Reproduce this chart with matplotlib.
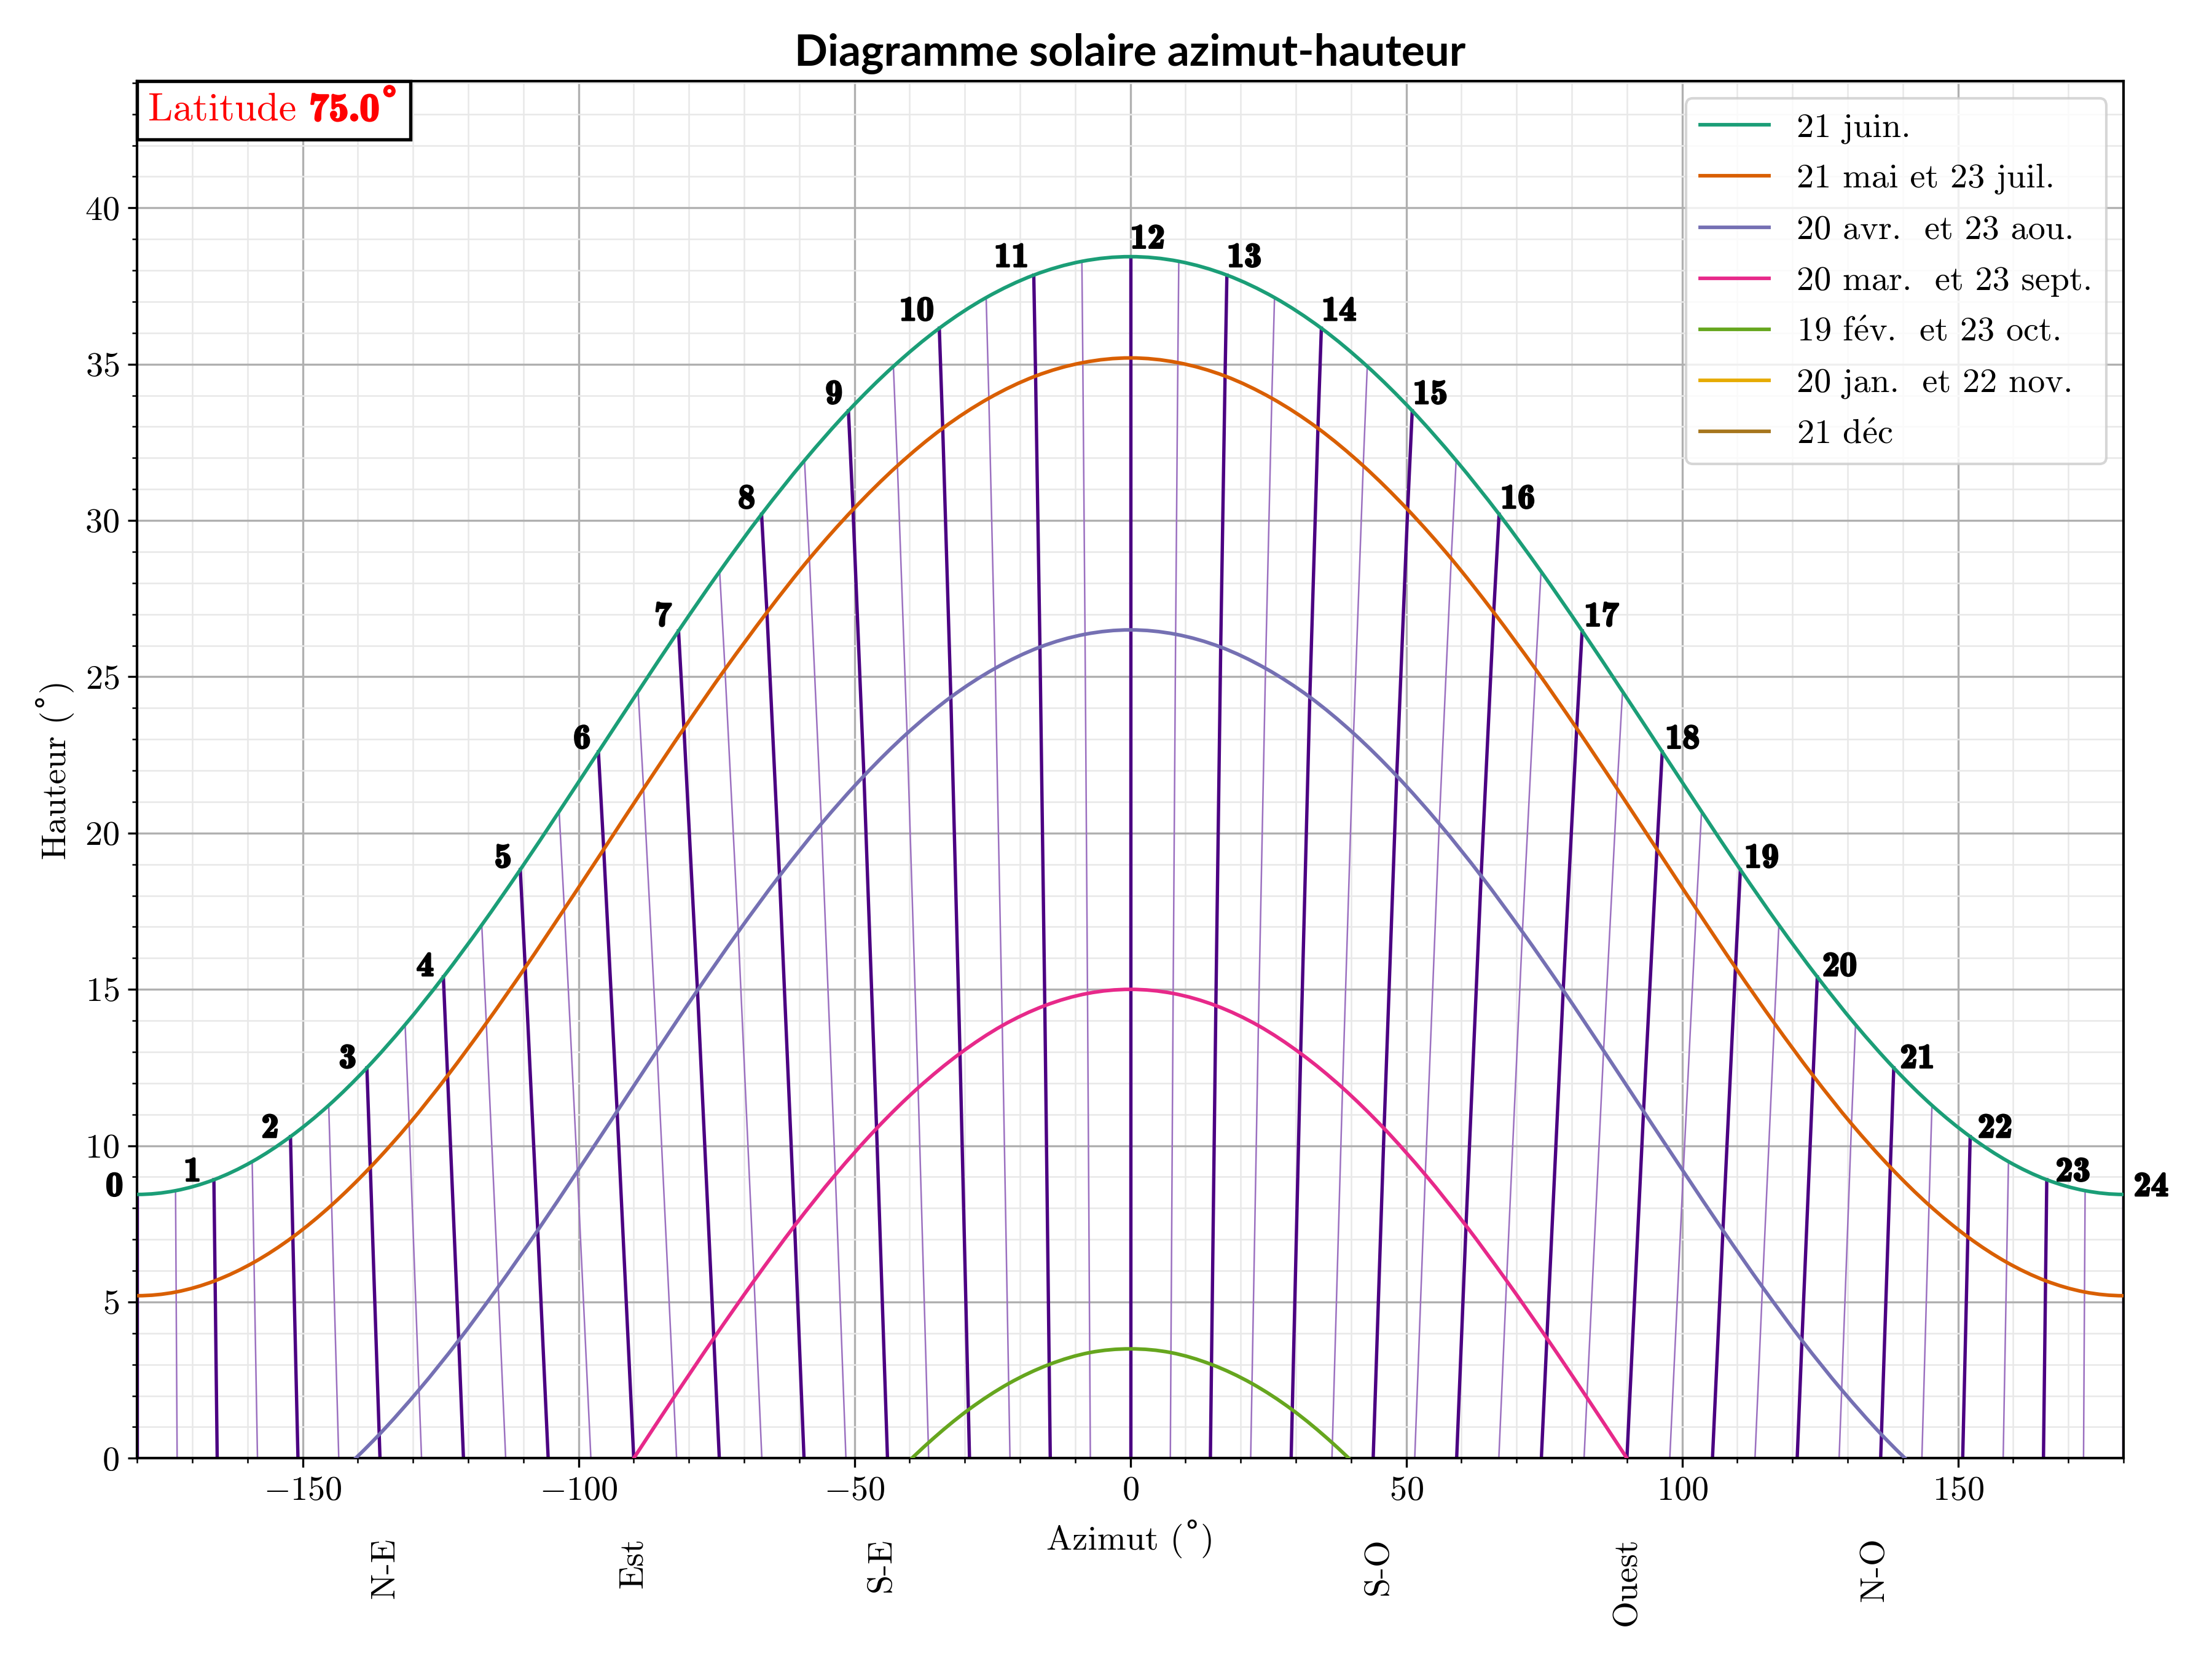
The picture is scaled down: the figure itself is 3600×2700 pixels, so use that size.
"""Diagramme solaire azimut-hauteur, latitude 75 deg."""
import numpy as np
import matplotlib
matplotlib.use("Agg")
import matplotlib.pyplot as plt
import matplotlib.patheffects as pe
from matplotlib.lines import Line2D
from matplotlib.path import Path
from matplotlib.patches import PathPatch
from matplotlib.offsetbox import AnchoredOffsetbox, TextArea, HPacker
from matplotlib.ticker import MultipleLocator

plt.rcParams["font.family"] = ["cmr10", "DejaVu Serif"]
plt.rcParams["mathtext.fontset"] = "cm"
plt.rcParams["axes.formatter.use_mathtext"] = True

DEG = "\u02da"  # cmr10 has no degree sign; the ring comes from the fallback font
latitude = 75.0

# morning half of each day, every half hour from 0h to 12h (afternoon is the mirror)
az_jun = [-180.0, -173.04, -166.09, -159.15, -152.21, -145.28, -138.36, -131.43, -124.50, -117.54, -110.56, -103.52, -96.40,
          -89.20, -81.88, -74.43, -66.83, -59.05, -51.09, -42.94, -34.62, -26.13, -17.50, -8.78, 0.0]
alt_jun = [8.44, 8.56, 8.91, 9.49, 10.29, 11.29, 12.49, 13.87, 15.40, 17.06, 18.83, 20.69, 22.60,
           24.53, 26.47, 28.37, 30.20, 31.92, 33.51, 34.93, 36.15, 37.13, 37.85, 38.29, 38.44]

az_mai = [-180.0, -172.93, -165.87, -158.82, -151.78, -144.75, -137.74, -130.70, -123.74, -116.72, -109.67, -102.58, -95.44,
          -88.22, -80.90, -73.46, -65.86, -58.16, -50.26, -42.21, -34.00, -25.64, -17.17, -8.61, 0.0]
alt_mai = [5.20, 5.32, 5.68, 6.27, 7.08, 8.10, 9.31, 10.70, 12.24, 13.92, 15.70, 17.57, 19.48,
           21.42, 23.35, 25.24, 27.06, 28.78, 30.35, 31.75, 32.95, 33.91, 34.62, 35.05, 35.20]

az_avr = [-180.0, -172.64, -165.29, -157.95, -150.65, -143.38, -136.13, -128.92, -121.72, -114.56, -107.40, -100.22, -93.01,
          -85.77, -78.45, -71.06, -63.58, -55.99, -48.28, -40.46, -32.53, -24.50, -16.38, -8.21, 0.0]
alt_avr = [-3.50, -3.38, -3.00, -2.39, -1.55, -0.49, 0.76, 2.19, 3.77, 5.48, 7.29, 9.18, 11.10,
           13.04, 14.97, 16.84, 18.63, 20.30, 21.83, 23.19, 24.35, 25.27, 25.95, 26.36, 26.50]

az_mar = [-180.0, -172.24, -164.50, -156.79, -149.12, -141.54, -134.01, -126.54, -119.16, -111.81, -104.51, -97.25, -90.00,
          -82.75, -75.49, -68.19, -60.84, -53.46, -45.99, -38.46, -30.87, -23.21, -15.50, -7.76, 0.0]
alt_mar = [-15.00, -14.87, -14.48, -13.84, -12.95, -11.85, -10.55, -9.07, -7.44, -5.68, -3.84, -1.94, 0.00,
           1.94, 3.84, 5.68, 7.44, 9.07, 10.55, 11.85, 12.95, 13.84, 14.48, 14.87, 15.00]

az_fev = [-180.0, -171.79, -163.62, -155.50, -147.47, -139.54, -131.72, -124.01, -116.42, -108.94, -101.55, -94.23, -86.99,
          -79.78, -72.60, -65.43, -58.28, -51.08, -43.87, -36.62, -29.35, -22.05, -14.71, -7.36, 0.0]
alt_fev = [-26.50, -26.36, -25.95, -25.27, -24.35, -23.19, -21.83, -20.30, -18.63, -16.84, -14.97, -13.04, -11.10,
           -9.18, -7.29, -5.48, -3.77, -2.19, -0.76, 0.49, 1.55, 2.39, 3.00, 3.38, 3.50]

az_jan = [-180.0, -171.39, -162.83, -154.36, -146.00, -137.79, -129.74, -121.84, -114.14, -106.54, -99.10, -91.78, -84.56,
          -77.42, -70.33, -63.28, -56.26, -49.30, -42.26, -35.25, -28.22, -21.18, -14.13, -7.07, 0.0]
alt_jan = [-35.20, -35.05, -34.62, -33.91, -32.95, -31.75, -30.35, -28.78, -27.06, -25.24, -23.35, -21.42, -19.48,
           -17.57, -15.70, -13.92, -12.24, -10.70, -9.31, -8.10, -7.08, -6.27, -5.68, -5.32, -5.20]

az_dec = [-180.0, -171.22, -162.50, -153.87, -145.38, -137.06, -128.91, -120.95, -113.17, -105.57, -98.12, -90.80, -83.60,
          -76.48, -69.44, -62.46, -55.50, -48.57, -41.64, -34.72, -27.79, -20.85, -13.91, -6.96, 0.0]
alt_dec = [-38.44, -38.29, -37.85, -37.13, -36.15, -34.93, -33.51, -31.92, -30.20, -28.37, -26.47, -24.53, -22.60,
           -20.69, -18.83, -17.06, -15.40, -13.87, -12.49, -11.29, -10.29, -9.49, -8.91, -8.56, -8.44]

day_labels = [
    "21 juin.",
    "21 mai et 23 juil.",
    "20 avr.  et 23 aou.",
    "20 mar.  et 23 sept.",
    r"19 f$\acute{\rm e}$v.  et 23 oct.",
    "20 jan.  et 22 nov.",
    r"21 d$\acute{\rm e}$c",
]
day_colors = ["#1b9e77", "#d95f02", "#7570b3", "#e7298a", "#66a61e", "#e6ab02", "#a6761d"]

compass_az = [-135, -90, -45, 45, 90, 135]
compass_labels = ["N-E", "Est", "S-E", "S-O", "Ouest", "N-O"]

BOLD = ["cmb10", "DejaVu Serif"]
thick = [pe.withStroke(linewidth=0.7, foreground="black")]


def full_day(az_half, alt_half):
    az_half = np.asarray(az_half)
    alt_half = np.asarray(alt_half)
    az = np.concatenate([az_half, -az_half[-2::-1]])
    alt = np.concatenate([alt_half, alt_half[-2::-1]])
    return az, alt


def smooth_path(x, y):
    # cubic bezier through the read points (catmull-rom tangents), ends mirrored at +/-180
    pts = np.column_stack([x, y])
    first = [2 * pts[0, 0] - pts[1, 0], pts[1, 1]]
    last = [2 * pts[-1, 0] - pts[-2, 0], pts[-2, 1]]
    P = np.vstack([first, pts, last])
    verts = [P[1]]
    codes = [Path.MOVETO]
    for i in range(1, len(P) - 2):
        verts += [P[i] + (P[i + 1] - P[i - 1]) / 6, P[i + 1] - (P[i + 2] - P[i]) / 6, P[i + 1]]
        codes += [Path.CURVE4] * 3
    return Path(verts, codes)


days = [full_day(a, h) for a, h in [(az_jun, alt_jun), (az_mai, alt_mai), (az_avr, alt_avr), (az_mar, alt_mar),
                                    (az_fev, alt_fev), (az_jan, alt_jan), (az_dec, alt_dec)]]
AZ = np.vstack([d[0] for d in days])
ALT = np.vstack([d[1] for d in days])

fig = plt.figure(figsize=(12, 9), dpi=300)
ax = fig.add_axes([0.062, 0.121, 0.898, 0.830])

# hour lines (thick on the hour, thin on the half hour)
for j in range(AZ.shape[1]):
    if j % 2 == 0:
        ax.plot(AZ[:, j], ALT[:, j], color="#4b0082", lw=1.3, zorder=2)
    else:
        ax.plot(AZ[:, j], ALT[:, j], color="#9b70c0", lw=0.6, zorder=2)

handles = []
for (az, alt), lab, col in zip(days, day_labels, day_colors):
    ax.add_patch(PathPatch(smooth_path(az, alt), facecolor="none", edgecolor=col, lw=1.4, zorder=3))
    handles.append(Line2D([], [], color=col, lw=1.4, label=lab))

# hour numbers above the 21 june curve
for j in range(0, AZ.shape[1], 2):
    hour = j // 2
    s = np.sin(np.pi * min(hour, 24 - hour) / 24)
    if hour < 12:
        ha, dx = "right", -(2.0 + 3.5 * (1 - s))
    else:
        ha, dx = "left", 4.0 * (1 - s)
    dy = -0.5 + 3.9 * s ** 2
    ax.annotate(str(hour), xy=(AZ[0, j], ALT[0, j]), xytext=(dx, dy),
                textcoords="offset points", ha=ha, va="baseline", fontsize=13.5,
                family=BOLD, path_effects=thick, annotation_clip=False, zorder=5)

ax.set_xlim(-180, 180)
ax.set_ylim(0, 44.05)
ax.xaxis.set_major_locator(MultipleLocator(50))
ax.xaxis.set_minor_locator(MultipleLocator(10))
ax.yaxis.set_major_locator(MultipleLocator(5))
ax.yaxis.set_minor_locator(MultipleLocator(1))
ax.tick_params(labelsize=13.5)
ax.grid(which="major", color="#b0b0b0", lw=0.8)
ax.grid(which="minor", color="#e8e8e8", lw=0.6)
ax.set_axisbelow(True)
for sp in ax.spines.values():
    sp.set_linewidth(1.0)

ax.set_xlabel(f"Azimut ({DEG})", fontsize=13.5, labelpad=5)
ax.set_ylabel(f"Hauteur ({DEG})", fontsize=13.5)
ax.set_title("Diagramme solaire azimut-hauteur", fontsize=17, fontweight="bold",
             family=["Liberation Sans Narrow", "Lato", "DejaVu Sans"], pad=6)

secax = ax.secondary_xaxis("bottom")
secax.set_xticks(compass_az, compass_labels, rotation=90)
secax.tick_params(length=0, pad=31, labelsize=13.5)
secax.spines["bottom"].set_visible(False)

lat_txt = TextArea("Latitude", textprops=dict(color="red", size=15.5))
lat_val = TextArea(f"{latitude:.1f}{DEG}",
                   textprops=dict(color="red", size=15.5, family=BOLD,
                                  path_effects=[pe.withStroke(linewidth=0.7, foreground="red")]))
lat_box = HPacker(children=[lat_txt, lat_val], align="baseline", pad=0, sep=5)
anch = AnchoredOffsetbox(loc="upper left", child=lat_box, pad=0.42, borderpad=0, frameon=True)
anch.patch.set_boxstyle("square,pad=0")
anch.patch.set_edgecolor("black")
anch.patch.set_linewidth(1.3)
anch.zorder = 6
ax.add_artist(anch)

ax.legend(handles=handles, loc="upper right", fontsize=13.5, labelspacing=0.58)

fig.savefig("out.png", dpi=300)
plt.close(fig)
